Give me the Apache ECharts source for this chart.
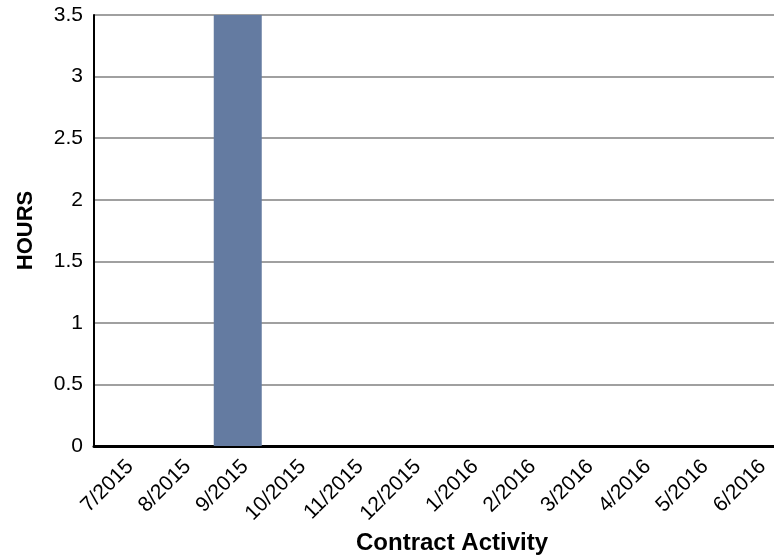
<!DOCTYPE html>
<html><head><meta charset="utf-8">
<script src="https://cdn.jsdelivr.net/npm/echarts@6/dist/echarts.min.js"></script>
<style>html,body{margin:0;padding:0;background:#fff}#c{width:774px;height:556px}</style>
</head><body><div id="c"></div>
<script>
const categories = ['7/2015','8/2015','9/2015','10/2015','11/2015','12/2015','1/2016','2/2016','3/2016','4/2016','5/2016','6/2016'];
const hours = [0, 0, 3.5, 0, 0, 0, 0, 0, 0, 0, 0, 0];
const yTicks = {min: 0, max: 3.5, interval: 0.5};

const chart = echarts.init(document.getElementById('c'), null, {renderer: 'canvas'});
chart.setOption({
  animation: false,
  grid: {left: 94, top: 15, width: 690, height: 431, containLabel: false, outerBoundsMode: 'none'},
  xAxis: {
    type: 'category', data: categories,
    name: 'Contract Activity', nameLocation: 'middle', nameGap: 82,
    nameTextStyle: {fontFamily: 'Liberation Sans', fontWeight: 'bold', fontSize: 24, color: '#000', padding: [0, 0, 0, 26]},
    axisLine: {lineStyle: {color: '#000', width: 3}},
    axisTick: {show: false},
    axisLabel: {rotate: 45, interval: 0, fontFamily: 'Liberation Sans', fontSize: 21, color: '#000', margin: 10, verticalAlign: 'top'},
    splitLine: {show: false}
  },
  yAxis: {
    type: 'value', min: yTicks.min, max: yTicks.max, interval: yTicks.interval,
    name: 'HOURS', nameLocation: 'middle', nameGap: 57, nameRotate: 90,
    nameTextStyle: {fontFamily: 'Liberation Sans', fontWeight: 'bold', fontSize: 22, color: '#000'},
    axisLine: {show: true, lineStyle: {color: '#000', width: 2}},
    axisTick: {show: false},
    axisLabel: {fontFamily: 'Liberation Sans', fontSize: 21, color: '#000', margin: 11},
    splitLine: {lineStyle: {color: '#808080', width: 1.5}}
  },
  series: [{
    type: 'bar', data: hours, barWidth: 48,
    itemStyle: {color: '#647ba1'}
  }]
});
</script></body></html>
